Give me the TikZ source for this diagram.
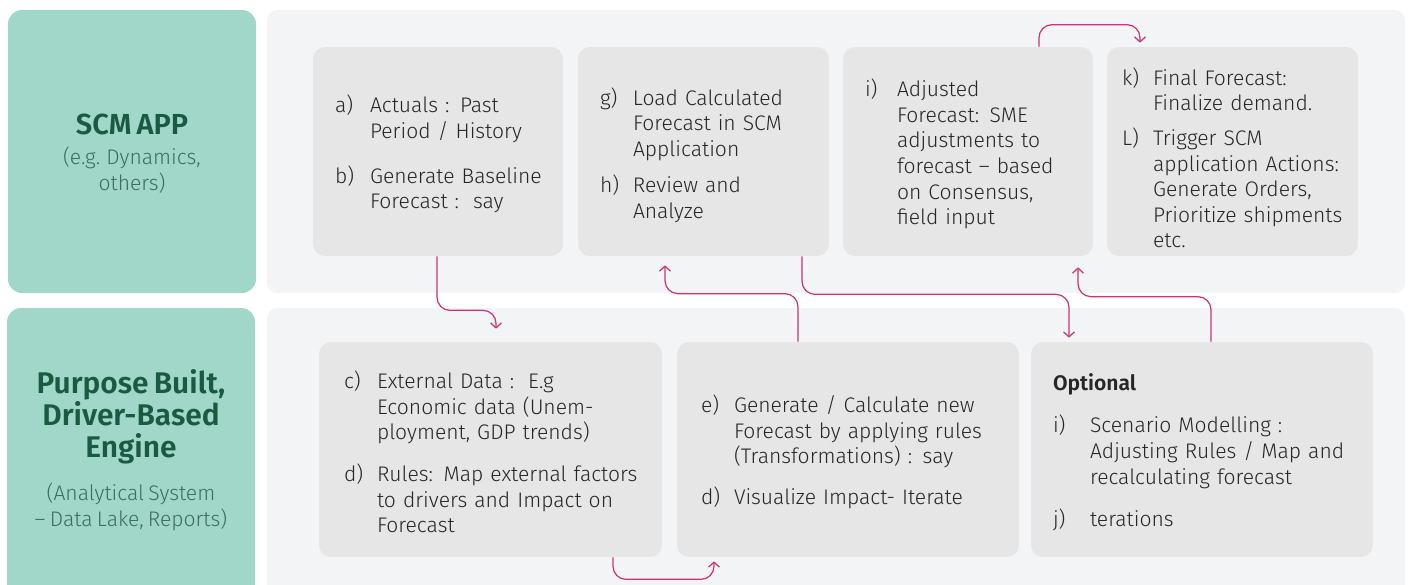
\documentclass[tikz,border=0pt]{standalone}
\usepackage{fontspec}
\setmainfont{Fira Sans}[UprightFont={* Light}, BoldFont={* SemiBold}, WordSpace=0.72]
\usetikzlibrary{positioning,calc,arrows.meta}

\definecolor{lanegreen}{HTML}{A0D7C9}
\definecolor{lanetitle}{HTML}{1B5A42}
\definecolor{lanesub}{HTML}{3E6E5D}
\definecolor{panelgray}{HTML}{F3F4F6}
\definecolor{cardgray}{HTML}{E6E6E6}
\definecolor{cardtext}{HTML}{262626}
\definecolor{flowpink}{HTML}{CC3377}

\newcommand{\cardfont}{\fontsize{12}{14.6}\selectfont}
% label column of width #2, text lowered by #1
\newcommand{\steplist}[3][0.08cm]{%
  \raisebox{-#1}[\height][\depth]{\begin{tabular}{@{}p{#2}@{}l@{}}#3\end{tabular}}}

\begin{document}
\begin{tikzpicture}[x=0.02cm, y=-0.02cm,
    lane/.style={fill=lanegreen, rounded corners=0.28cm},
    panel/.style={fill=panelgray, rounded corners=0.2cm},
    card/.style={fill=cardgray, rounded corners=0.24cm, inner ysep=0pt,
      minimum height=4.18cm, align=left, text=cardtext, font=\cardfont},
    lowcard/.style={card, minimum height=4.3cm},
    lanehead/.style={text=lanetitle, align=center,
      font=\bfseries\fontsize{16.5}{18}\selectfont},
    lanenote/.style={text=lanesub, align=center,
      font=\fontsize{12}{14.6}\selectfont},
    flow/.style={draw=flowpink, line width=0.7pt, rounded corners=0.26cm,
      -{Straight Barb[length=1mm,width=2.2mm]}}]
  \clip (0,0) rectangle (1411,585);

  % lanes and panels
  \fill[lane] (8,10) rectangle (256,293);
  \fill[lane] (7,308) rectangle (255,610);
  \fill[panel] (267,10) rectangle (1405,293);
  \fill[panel] (267,308) rectangle (1405,610);

  \node[lanehead] (scm-head) at (132,124) {SCM APP};
  \node[lanenote] (scm-note) at (132,170) {(e.g. Dynamics,\\others)};
  \node[lanehead, font=\bfseries\fontsize{17}{18.2}\selectfont] (engine-head) at (131,417)
    {Purpose Built,\\Driver-Based\\Engine};
  \node[lanenote] (engine-note) at (131,507) {(Analytical System\\– Data Lake, Reports)};

  % SCM application steps
  \node[card, inner xsep=0.44cm, text width=4.12cm] (actuals) at (438,151.5) {%
    \steplist{0.7cm}{
      a) & Actuals : Past\\
         & Period / History\\[11pt]
      b) & Generate Baseline\\
         & Forecast :\ \ say}};
  \node[card, inner xsep=0.44cm, text width=4.14cm] (loadcalc) at (703.5,151.5) {%
    \steplist[0.1cm]{0.66cm}{
      g) & Load Calculated\\
         & Forecast in SCM\\
         & Application\\[6pt]
      h) & Review and\\
         & Analyze}};
  \node[card, inner xsep=0.44cm, text width=4.12cm] (adjusted) at (968,151.5) {%
    \steplist{0.64cm}{
      i) & Adjusted\\
         & Forecast: SME\\
         & adjustments to\\
         & forecast – based\\
         & on Consensus,\\
         & field input}};
  \node[card, inner xsep=0.3cm, text width=4.42cm] (final) at (1232.5,151.5) {%
    \steplist[0.2cm]{0.62cm}{
      k) & Final Forecast:\\
         & Finalize demand.\\[5pt]
      L) & Trigger SCM\\
         & application Actions:\\
         & Generate Orders,\\
         & Prioritize shipments\\
         & etc.}};

  % engine steps
  \node[lowcard, inner xsep=0.5cm, text width=5.86cm] (external) at (490.5,449.5) {%
    \steplist[0.12cm]{0.66cm}{
      c) & External Data :\ \ E.g\\
         & Economic data (Unem-\\
         & ployment, GDP trends)\\[9pt]
      d) & Rules: Map external factors\\
         & to drivers and Impact on\\
         & Forecast}};
  \node[lowcard, inner xsep=0.48cm, text width=5.88cm] (generate) at (848,449.5) {%
    \steplist{0.66cm}{
      e) & Generate / Calculate new\\
         & Forecast by applying rules\\
         & (Transformations) : say\\[8.5pt]
      d) & Visualize Impact- Iterate}};
  \node[lowcard, inner xsep=0.44cm, text width=5.96cm] (optional) at (1202,449.5) {%
    \steplist{0.74cm}{
      \multicolumn{2}{@{}l@{}}{\bfseries Optional}\\[9.5pt]
      i) & Scenario Modelling :\\
         & Adjusting Rules / Map and\\
         & recalculating forecast\\[9.5pt]
      j) & terations}};

  % flow between the lanes
  \draw[flow] ($(actuals.south)+(-1,0)$) -- ++(0,54) -| ($(external.north)+(5.5,-13)$);
  \draw[flow] ($(external.south)+(122.5,0)$) -- ++(0,22) -| ($(generate.south)+(-134,4)$);
  \draw[flow] ($(generate.north)+(-50,0)$) -- ++(0,-48) -| ($(loadcalc.south)+(-38.5,9)$);
  \draw[flow] ($(loadcalc.south)+(98.5,0)$) -- ++(0,38) -| ($(optional.north)+(-133,-4)$);
  \draw[flow] ($(optional.north)+(9,0)$) -- ++(0,-45) -| ($(final.south)+(-154.5,11)$);
  \draw[flow] ($(adjusted.north)+(71,0)$) -- ++(0,-22) -| ($(final.north)+(-92.5,-4)$);
\end{tikzpicture}
\end{document}
